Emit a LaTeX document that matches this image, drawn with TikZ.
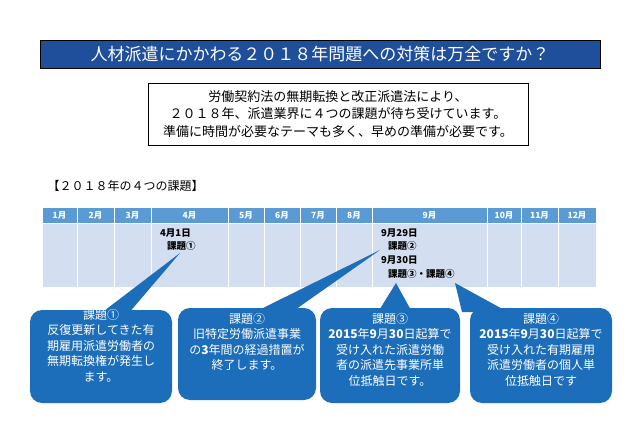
\documentclass[tikz,border=0pt]{standalone}
\usepackage{fontspec}
\setmainfont{Noto Sans CJK JP}
\definecolor{titleblue}{HTML}{1F4E9A}
\definecolor{callblue}{HTML}{1C6DBA}
\definecolor{headblue}{HTML}{5B9BD5}
\definecolor{bodyblue}{HTML}{D3DEF0}
\tikzset{
  head/.style={fill=headblue,draw=white,line width=0.8pt},
  body/.style={fill=bodyblue,draw=white,line width=0.8pt},
  cell/.style={font=\fontsize{9.5}{10}\selectfont\bfseries,anchor=west,inner sep=0pt},
  callout/.style={fill=callblue},
  calltext/.style={text=white,align=center,font=\fontsize{12}{15.5}\selectfont,anchor=north,inner sep=0pt}
}
\begin{document}
\begin{tikzpicture}[x=1pt,y=-1pt]
\useasboundingbox (0,0) rectangle (638,442);
\node[draw=black,fill=titleblue,minimum width=560pt,minimum height=28pt,text=white,font=\fontsize{17}{19}\selectfont] (title) at (320,54) {人材派遣にかかわる２０１８年問題への対策は万全ですか？};
\node[draw=black,fill=white,minimum width=380pt,minimum height=62pt,align=center,font=\fontsize{13}{17.5}\selectfont] (intro) at (338,114) {労働契約法の無期転換と改正派遣法により、\\２０１８年、派遣業界に４つの課題が待ち受けています。\\準備に時間が必要なテーマも多く、早めの準備が必要です。};
\node[anchor=west,font=\fontsize{12}{14}\selectfont] (sub) at (44,186) {【２０１８年の４つの課題】};
\foreach \a/\b/\m [count=\i] in {42/77/1月,77/114/2月,114/151/3月,151/228/4月,228/264/5月,264/300/6月,300/336/7月,336/372/8月,372/487/9月,487/521/10月,521/558/11月,558/596/12月}{
  \draw[head] (\a,207) rectangle (\b,223);
  \node[text=white,font=\fontsize{8.5}{9}\selectfont\bfseries] (h\i) at ({(\a+\b)/2},215) {\m};
  \draw[body] (\a,223) rectangle (\b,287);
}
\node[cell] (d1) at (160,233) {4月1日};
\node[cell] (k1) at (167,246) {課題①};
\node[cell] (d2) at (381,233) {9月29日};
\node[cell] (k2) at (388,246) {課題②};
\node[cell] (d3) at (381,260) {9月30日};
\node[cell] (k3) at (388,274) {課題③・課題④};
\coordinate (t1) at (180,253);
\coordinate (t2) at (380,250);
\coordinate (t3) at (396,283);
\coordinate (t4) at (455,283);
\fill[callout] (100,314) -- (t1) -- (128,314) -- cycle;
\fill[callout,rounded corners=12pt] (30,310) rectangle (172,403);
\fill[callout] (255,312) -- (t2) -- (292,312) -- cycle;
\fill[callout,rounded corners=12pt] (178,308) rectangle (316,400);
\fill[callout] (378,312) -- (t3) -- (412,312) -- cycle;
\fill[callout,rounded corners=12pt] (320,308) rectangle (460,403);
\fill[callout] (462,312) -- (t4) -- (508,312) -- cycle;
\fill[callout,rounded corners=12pt] (470,308) rectangle (612,403);
\node[calltext] (c1) at (101,309) {課題①\\反復更新してきた有\\期雇用派遣労働者の\\無期転換権が発生し\\ます。};
\node[calltext] (c2) at (247,313) {課題②\\旧特定労働派遣事業\\の\textbf{3}年間の経過措置が\\終了します。};
\node[calltext] (c3) at (390,313) {課題③\\\textbf{2015}年\textbf{9}月\textbf{30}日起算で\\受け入れた派遣労働\\者の派遣先事業所単\\位抵触日です。};
\node[calltext] (c4) at (541,313) {課題④\\\textbf{2015}年\textbf{9}月\textbf{30}日起算で\\受け入れた有期雇用\\派遣労働者の個人単\\位抵触日です};
\end{tikzpicture}
\end{document}
